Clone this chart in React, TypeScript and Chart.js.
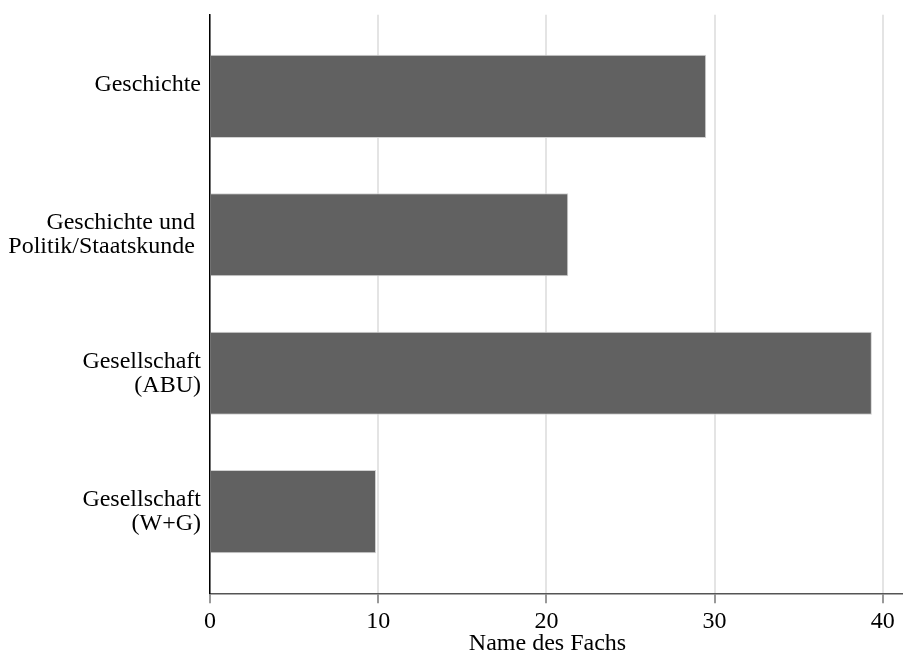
import React, { useEffect, useRef } from "react";
import { Chart, registerables } from "chart.js";

Chart.register(...registerables);

// Category labels (multi-line, as shown on the y axis)
const categories: string[][] = [
  ["Geschichte", ""],
  ["Geschichte und ", "Politik/Staatskunde "],
  ["Gesellschaft", "(ABU)"],
  ["Gesellschaft", "(W+G)"],
];
// Bar values
const values: number[] = [29.5, 21.3, 39.35, 9.87];
// X axis ticks
const xTicks: number[] = [0, 10, 20, 30, 40];
const xTitle = "Name des Fachs";

const FONT = "'Liberation Serif', 'Times New Roman', serif";

export default function App() {
  const ref = useRef<HTMLCanvasElement>(null);

  useEffect(() => {
    if (!ref.current) return;
    const chart = new Chart(ref.current, {
      type: "bar",
      data: {
        datasets: [
          {
            data: values.map((v, i) => ({ x: v, y: i })) as any,
            backgroundColor: "#616161",
            borderColor: "#d2d2d2",
            borderWidth: 1,
            barPercentage: 0.6,
            categoryPercentage: 1,
          },
        ],
      },
      options: {
        indexAxis: "y",
        responsive: false,
        animation: false,
        devicePixelRatio: 1,
        layout: { padding: { top: 14.7, left: 0, right: 0, bottom: 0 } },
        plugins: {
          legend: { display: false },
          tooltip: { enabled: false },
        },
        scales: {
          x: {
            type: "linear",
            min: 0,
            max: 41.2,
            afterBuildTicks: (s: any) => {
              s.ticks = xTicks.map((v) => ({ value: v }));
            },
            ticks: {
              font: { family: FONT, size: 24, lineHeight: 1 },
              color: "#000",
              padding: 6,
              maxRotation: 0,
            },
            grid: {
              color: "#e4e4e4",
              lineWidth: 2,
              tickColor: "#555",
              tickLength: 10,
              tickWidth: 1.2,
            },
            border: { color: "#555", width: 1.5 },
            title: {
              display: true,
              text: xTitle + "   ",
              font: { family: FONT, size: 24, lineHeight: 0.83 },
              color: "#000",
              padding: 0,
            },
            afterFit: (s: any) => {
              s.height = 60.7;
              s.paddingLeft = 0;
              s.paddingRight = 0;
            },
          },
          y: {
            type: "linear",
            min: -0.59,
            max: 3.59,
            reverse: true,
            offset: false,
            z: 1,
            afterBuildTicks: (s: any) => {
              s.ticks = categories.map((_, i) => ({ value: i }));
            },
            ticks: {
              callback: (v: any) => categories[Math.round(Number(v))] ?? "",
              font: { family: FONT, size: 24, lineHeight: 1 },
              color: "#000",
              padding: 9,
            },
            grid: { display: false, drawTicks: false },
            border: { color: "#000", width: 1.5 },
            afterFit: (s: any) => {
              s.width = 210;
              s.paddingTop = 0;
              s.paddingBottom = 0;
            },
          },
        },
      } as any,
    });
    return () => chart.destroy();
  }, []);

  return (
    <div
      style={{
        position: "fixed",
        left: 0,
        top: 0,
        width: 903,
        height: 654,
        background: "#fff",
      }}
    >
      <canvas ref={ref} width={903} height={654} style={{ display: "block" }} />
    </div>
  );
}
